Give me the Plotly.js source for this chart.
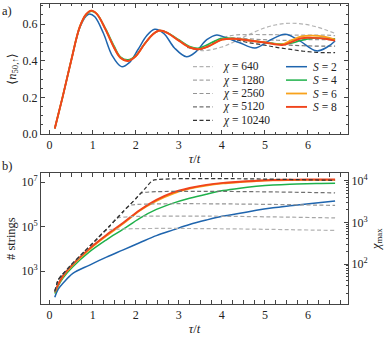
<!DOCTYPE html>
<html>
<head>
<meta charset="utf-8">
<script src="https://cdn.plot.ly/plotly-3.0.1.min.js"></script>
<style>
    body { margin: 0; background: #fff; }
    #chart { width: 389px; height: 340px; }
</style>
</head>
<body>
<div id="chart"></div>
<script>
/*global Plotly*/
'use strict';

// ---- panel a: <n_50,up>(tau) for several S, and for several chi ----
var tauS2 = [0.12, 0.3, 0.5, 0.7, 0.85, 0.93, 1.05, 1.25, 1.45, 1.67, 1.85, 2.05, 2.25, 2.44, 2.65,
    2.9, 3.18, 3.4, 3.65, 3.88, 4.1, 4.4, 4.77, 5.1, 5.47, 5.8, 6.2, 6.45, 6.63];
var occS2 = [0.03, 0.2, 0.4, 0.58, 0.645, 0.656, 0.64, 0.55, 0.43, 0.368, 0.39, 0.46, 0.535, 0.572, 0.55,
    0.47, 0.422, 0.45, 0.515, 0.541, 0.525, 0.5, 0.47, 0.51, 0.545, 0.51, 0.454, 0.475, 0.508];

var tauS = [0.12, 0.3, 0.5, 0.7, 0.85, 0.97, 1.1, 1.3, 1.5, 1.65, 1.82, 2.0, 2.2, 2.4, 2.56, 2.75,
    3.0, 3.25, 3.45, 3.7, 4.0, 4.3, 4.6, 5.0, 5.4, 5.6, 5.85, 6.1, 6.4, 6.63];
var occS4 = [0.03, 0.2, 0.4, 0.585, 0.652, 0.67, 0.655, 0.575, 0.48, 0.42, 0.405, 0.428, 0.49, 0.545, 0.565, 0.552,
    0.515, 0.478, 0.468, 0.492, 0.523, 0.522, 0.512, 0.5, 0.492, 0.495, 0.512, 0.523, 0.522, 0.52];
var occS6 = [0.03, 0.2, 0.4, 0.585, 0.655, 0.674, 0.655, 0.57, 0.47, 0.415, 0.399, 0.425, 0.49, 0.545, 0.565, 0.55,
    0.51, 0.473, 0.463, 0.48, 0.515, 0.52, 0.512, 0.5, 0.49, 0.51, 0.533, 0.537, 0.53, 0.515];
var occS8 = [0.03, 0.2, 0.4, 0.585, 0.655, 0.674, 0.655, 0.57, 0.47, 0.415, 0.399, 0.425, 0.49, 0.545, 0.565, 0.55,
    0.51, 0.473, 0.463, 0.48, 0.515, 0.52, 0.512, 0.5, 0.486, 0.5, 0.523, 0.525, 0.52, 0.51];

// fixed-chi runs (they sit under the S curves before tau ~ 3.2)
var tauChi = [3.2, 3.45, 3.6, 4.0, 4.3, 4.6, 5.0, 5.3, 5.6, 5.9, 6.2, 6.45, 6.63];
var occChi640 = [0.472, 0.458, 0.455, 0.475, 0.505, 0.54, 0.58, 0.598, 0.605, 0.6, 0.585, 0.565, 0.55];
var occChi1280 = [0.475, 0.463, 0.478, 0.525, 0.54, 0.543, 0.543, 0.542, 0.54, 0.54, 0.54, 0.54, 0.537];
var occChi2560 = [0.475, 0.463, 0.474, 0.515, 0.525, 0.52, 0.515, 0.512, 0.512, 0.515, 0.515, 0.515, 0.513];
var occChi5120 = [0.475, 0.463, 0.47, 0.515, 0.52, 0.51, 0.5, 0.492, 0.485, 0.482, 0.48, 0.48, 0.48];
var occChi10240 = [0.475, 0.463, 0.47, 0.515, 0.515, 0.5, 0.485, 0.472, 0.462, 0.452, 0.446, 0.444, 0.444];

// ---- panel b: number of strings (left) and bond dimension (right) ----
var tauStr = [0.12, 0.2, 0.31, 0.54, 0.93, 1.32, 1.71, 2.09, 2.48, 2.87, 3.25, 3.64, 4.03, 4.42,
    4.8, 5.19, 5.58, 5.97, 6.3, 6.63];
var strS2 = [68, 160, 290, 810, 1900, 4300, 9100, 19000, 40000, 72000, 1.26e5, 2.0e5, 3.0e5, 4.0e5,
    5.5e5, 7.1e5, 8.7e5, 1.05e6, 1.23e6, 1.45e6];
var strS4 = [100, 220, 500, 1600, 7600, 2.6e4, 7.8e4, 2.4e5, 6.0e5, 1.15e6, 1.9e6, 2.9e6, 4.2e6, 5.4e6,
    6.5e6, 7.5e6, 8.2e6, 8.6e6, 8.8e6, 8.9e6];
var strS6 = [112, 245, 590, 1950, 9800, 3.9e4, 1.38e5, 5.2e5, 1.45e6, 3.1e6, 5.1e6, 7.1e6, 8.8e6, 1.0e7,
    1.12e7, 1.2e7, 1.24e7, 1.26e7, 1.27e7, 1.27e7];
var strS8 = [118, 260, 630, 2100, 1.07e4, 4.3e4, 1.5e5, 5.5e5, 1.6e6, 3.5e6, 5.5e6, 7.6e6, 9.3e6, 1.05e7,
    1.17e7, 1.26e7, 1.29e7, 1.32e7, 1.32e7, 1.32e7];

var tauMax640 = [0.12, 0.2, 0.3, 0.5, 0.8, 1.1, 1.29, 6.63];
var chiMax640 = [22, 42, 56, 95, 195, 400, 640, 640];
var tauMax1280 = [0.12, 0.2, 0.3, 0.5, 0.8, 1.1, 1.4, 1.57, 6.63];
var chiMax1280 = [22, 42, 56, 95, 195, 400, 830, 1280, 1280];
var tauMax2560 = [0.12, 0.2, 0.3, 0.5, 0.8, 1.1, 1.4, 1.7, 1.85, 6.63];
var chiMax2560 = [22, 42, 56, 95, 195, 400, 830, 1780, 2560, 2560];
var tauMax5120 = [0.12, 0.2, 0.3, 0.5, 0.8, 1.1, 1.4, 1.7, 2.0, 2.13, 6.63];
var chiMax5120 = [22, 42, 56, 95, 195, 400, 830, 1780, 3700, 5120, 5120];
var tauMax10240 = [0.12, 0.2, 0.3, 0.5, 0.8, 1.1, 1.4, 1.7, 2.0, 2.2, 2.4, 6.63];
var chiMax10240 = [22, 42, 56, 95, 195, 400, 830, 1780, 3700, 6200, 10240, 10240];

var chiLabels = ['640', '1280', '2560', '5120', '10240'];
var sLabels = ['2', '4', '6', '8'];

var chiColors = ['#b3b3b3', '#a6a6a6', '#959595', '#707070', '#333333'];
var sColors = ['#1f65ae', '#1fb14b', '#f8a21c', '#f0441c'];
var sWidths = [1.5, 1.5, 1.8, 1.9];

var FONT = 'Liberation Serif, DejaVu Serif, serif';
var AXCOL = '#444';
var DASH = '4px,2.5px';

var W = 389, H = 340;
var M = {l: 41, r: 41, t: 4, b: 36};

function px2x(px) { return (px - M.l) / (W - M.l - M.r); }
function px2y(py) { return (H - M.b - py) / (H - M.t - M.b); }

function drawChart() {

    var data = [], i, layout, shapes = [], annotations = [];

    var occChi = [occChi640, occChi1280, occChi2560, occChi5120, occChi10240];
    var tauMax = [tauMax640, tauMax1280, tauMax2560, tauMax5120, tauMax10240];
    var chiMax = [chiMax640, chiMax1280, chiMax2560, chiMax5120, chiMax10240];

    for (i = 0; i < chiLabels.length; i += 1) {
        data.push({
            x: tauChi, y: occChi[i], xaxis: 'x', yaxis: 'y',
            mode: 'lines', line: {color: chiColors[i], width: 1.2, dash: DASH, shape: 'spline'},
            showlegend: false, hoverinfo: 'skip'
        });
        data.push({
            x: tauMax[i], y: chiMax[i], xaxis: 'x2', yaxis: 'y3',
            mode: 'lines', line: {color: chiColors[i], width: 1.2, dash: DASH, shape: 'spline', smoothing: 0.4},
            showlegend: false, hoverinfo: 'skip'
        });
    }

    var occS = [occS2, occS4, occS6, occS8];
    var strS = [strS2, strS4, strS6, strS8];
    for (i = 0; i < sLabels.length; i += 1) {
        data.push({
            x: i === 0 ? tauS2 : tauS, y: occS[i], xaxis: 'x', yaxis: 'y',
            mode: 'lines', line: {color: sColors[i], width: sWidths[i], shape: 'spline'},
            showlegend: false
        });
        data.push({
            x: tauStr, y: strS[i], xaxis: 'x2', yaxis: 'y2',
            mode: 'lines', line: {color: sColors[i], width: sWidths[i], shape: 'spline'},
            showlegend: false
        });
    }

    // hand-made legend, matplotlib spacing is tighter than plotly's
    var rowY0 = 66.7, rowDy = 13.4;
    var legFont = {family: FONT, size: 11.5, color: '#222'};
    for (i = 0; i < chiLabels.length; i += 1) {
        shapes.push({
            type: 'line', xref: 'paper', yref: 'paper',
            x0: px2x(193), x1: px2x(213), y0: px2y(rowY0 + i * rowDy), y1: px2y(rowY0 + i * rowDy),
            line: {color: chiColors[i], width: 1.2, dash: DASH}
        });
        annotations.push({
            xref: 'paper', yref: 'paper', x: px2x(221), y: px2y(rowY0 + i * rowDy),
            xanchor: 'left', yanchor: 'middle', showarrow: false,
            text: '<i>χ</i> = ' + chiLabels[i], font: legFont
        });
    }
    for (i = 0; i < sLabels.length; i += 1) {
        shapes.push({
            type: 'line', xref: 'paper', yref: 'paper',
            x0: px2x(286), x1: px2x(307), y0: px2y(rowY0 + i * rowDy), y1: px2y(rowY0 + i * rowDy),
            line: {color: sColors[i], width: sWidths[i]}
        });
        annotations.push({
            xref: 'paper', yref: 'paper', x: px2x(311), y: px2y(rowY0 + i * rowDy),
            xanchor: 'left', yanchor: 'middle', showarrow: false,
            text: '<i>S</i> = ' + sLabels[i], font: legFont
        });
    }

    // panel letters
    annotations.push({
        xref: 'paper', yref: 'paper', x: px2x(0), y: px2y(11), xanchor: 'left', yanchor: 'middle',
        showarrow: false, text: 'a)', font: {family: FONT, size: 12.5, color: '#222'}
    });
    annotations.push({
        xref: 'paper', yref: 'paper', x: px2x(0), y: px2y(166), xanchor: 'left', yanchor: 'middle',
        showarrow: false, text: 'b)', font: {family: FONT, size: 12.5, color: '#222'}
    });

    var tickFont = {family: FONT, size: 12, color: '#222'};
    var titleFont = {family: FONT, size: 12.5, color: '#222'};

    function xAxis(anchor) {
        return {
            anchor: anchor, domain: [0, 1], range: [-0.2, 6.93],
            tick0: 0, dtick: 1, ticks: 'inside', ticklen: 4, tickcolor: AXCOL,
            minor: {dtick: 0.25, ticks: 'inside', ticklen: 2, tickcolor: AXCOL},
            showline: true, linecolor: AXCOL, linewidth: 1, mirror: 'allticks',
            showgrid: false, zeroline: false, tickfont: tickFont,
            title: {text: '<i>τ</i>/<i>t</i>', font: titleFont, standoff: 2}
        };
    }

    var minorChi = [];
    [10, 100, 1000, 10000].forEach(function (dec) {
        var k;
        for (k = 2; k <= 9; k += 1) { minorChi.push(k * dec); }
    });

    layout = {
        width: W, height: H,
        margin: M,
        paper_bgcolor: '#fff', plot_bgcolor: '#fff',
        showlegend: false,
        font: {family: FONT, color: '#222'},
        xaxis: xAxis('y'),
        yaxis: {
            anchor: 'x', domain: [px2y(134), 1], range: [0, 0.71],
            tick0: 0, dtick: 0.2, tickformat: '.1f',
            ticks: 'inside', ticklen: 4, tickcolor: AXCOL,
            minor: {dtick: 0.05, ticks: 'inside', ticklen: 2, tickcolor: AXCOL},
            showline: true, linecolor: AXCOL, linewidth: 1, mirror: 'allticks',
            showgrid: false, zeroline: false, tickfont: tickFont,
            title: {text: '⟨<i>n</i><sub>50,↑</sub>⟩', font: titleFont, standoff: 3}
        },
        xaxis2: xAxis('y2'),
        yaxis2: {
            anchor: 'x2', domain: [0, px2y(173.3)], type: 'log', range: [1.53, 7.40],
            tickvals: [1e3, 1e5, 1e7], ticktext: ['10<sup>3</sup>', '10<sup>5</sup>', '10<sup>7</sup>'],
            ticks: 'inside', ticklen: 4, tickcolor: AXCOL,
            showline: true, linecolor: AXCOL, linewidth: 1, mirror: false,
            showgrid: false, zeroline: false, tickfont: tickFont,
            title: {text: '# strings', font: titleFont, standoff: 3}
        },
        yaxis3: {
            anchor: 'x2', overlaying: 'y2', side: 'right', type: 'log', range: [1.04, 4.18],
            tickvals: [1e2, 1e3, 1e4], ticktext: ['10<sup>2</sup>', '10<sup>3</sup>', '10<sup>4</sup>'],
            ticks: 'inside', ticklen: 4, tickcolor: AXCOL,
            minor: {tickvals: minorChi, ticks: 'inside', ticklen: 2, tickcolor: AXCOL},
            showline: true, linecolor: AXCOL, linewidth: 1,
            showgrid: false, zeroline: false, tickfont: tickFont,
            title: {text: '<i>χ</i><sub>max</sub>', font: titleFont, standoff: 3}
        },
        shapes: shapes,
        annotations: annotations
    };

    Plotly.newPlot('chart', data, layout, {staticPlot: true, displayModeBar: false});
}

drawChart();
</script>
</body>
</html>
